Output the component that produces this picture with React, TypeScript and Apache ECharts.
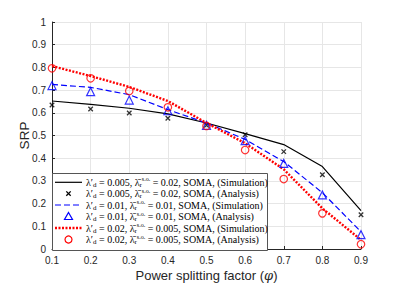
import React, { useEffect, useRef } from "react";
import * as echarts from "echarts";

const xValues = [0.1, 0.2, 0.3, 0.4, 0.5, 0.6, 0.7, 0.8, 0.9];
const sim1 = [0.652, 0.637, 0.62, 0.595, 0.555, 0.508, 0.46, 0.363, 0.169];
const ana1 = [0.634, 0.617, 0.599, 0.576, 0.545, 0.503, 0.429, 0.327, 0.151];
const sim2 = [0.725, 0.712, 0.68, 0.614, 0.555, 0.483, 0.385, 0.248, 0.076];
const ana2 = [0.72, 0.693, 0.656, 0.609, 0.545, 0.477, 0.377, 0.238, 0.063];
const sim3 = [0.806, 0.762, 0.714, 0.652, 0.555, 0.466, 0.351, 0.179, 0.04];
const ana3 = [0.796, 0.752, 0.696, 0.624, 0.542, 0.436, 0.308, 0.157, 0.021];

const lambdaD = ["0.005", "0.005", "0.01", "0.01", "0.02", "0.02"];
const lambdaR = ["0.02", "0.02", "0.01", "0.01", "0.005", "0.005"];
const kinds = ["Simulation", "Analysis", "Simulation", "Analysis", "Simulation", "Analysis"];

const pairs = (ys: number[]) => xValues.map((x, i) => [x, ys[i]]);

export default function App() {
  const ref = useRef<HTMLDivElement>(null);
  useEffect(() => {
    document.body.style.margin = "0";
    if (!ref.current) return;
    const chart = echarts.init(ref.current, undefined, { renderer: "svg" });
    const serif = "Liberation Serif";
    const axisColor = "#262626";

    // legend drawn with graphic
    const lx = 52, ly = 173, lw = 215, lh = 77;
    const rowY = [182.3, 193.6, 205, 216.5, 228, 239.5];
    const legendEls: any[] = [
      {
        type: "rect",
        shape: { x: lx + 0.5, y: ly + 0.5, width: lw, height: lh },
        style: { fill: "#ffffff", stroke: "#555555", lineWidth: 1 },
        z: 100,
      },
    ];
    const iconX1 = 55, iconX2 = 82, iconCx = 68.5;
    rowY.forEach((y, i) => {
      if (i === 0) {
        legendEls.push({ type: "line", shape: { x1: iconX1, y1: y, x2: iconX2, y2: y }, style: { stroke: "#000", lineWidth: 1.2 }, z: 101 });
      } else if (i === 1) {
        legendEls.push({ type: "line", shape: { x1: iconCx - 2.2, y1: y - 2.2, x2: iconCx + 2.2, y2: y + 2.2 }, style: { stroke: "#000", lineWidth: 1.3 }, z: 101 });
        legendEls.push({ type: "line", shape: { x1: iconCx - 2.2, y1: y + 2.2, x2: iconCx + 2.2, y2: y - 2.2 }, style: { stroke: "#000", lineWidth: 1.3 }, z: 101 });
      } else if (i === 2) {
        legendEls.push({ type: "line", shape: { x1: iconX1, y1: y, x2: iconX2, y2: y }, style: { stroke: "#0000ff", lineWidth: 1.2, lineDash: [6, 3] }, z: 101 });
      } else if (i === 3) {
        legendEls.push({
          type: "polygon",
          shape: { points: [[iconCx, y - 4], [iconCx + 4, y + 3], [iconCx - 4, y + 3]] },
          style: { fill: "none", stroke: "#0000ff", lineWidth: 1.2 },
          z: 101,
        });
      } else if (i === 4) {
        legendEls.push({ type: "line", shape: { x1: iconX1, y1: y, x2: iconX2, y2: y }, style: { stroke: "#ff0000", lineWidth: 2.4, lineDash: [2, 1.5] }, z: 101 });
      } else {
        legendEls.push({ type: "circle", shape: { cx: iconCx, cy: y, r: 3.5 }, style: { fill: "none", stroke: "#ff0000", lineWidth: 1.2 }, z: 101 });
      }
      legendEls.push({
        type: "text",
        x: 86,
        y: y,
        z: 101,
        style: {
          text: `λ′{sub|d} = ${lambdaD[i]}, λ̄{sub|r}{sup|s.o.} = ${lambdaR[i]}, SOMA, (${kinds[i]})`,
          fontFamily: serif,
          fontSize: 10,
          fill: "#000",
          verticalAlign: "middle",
          align: "left",
          rich: {
            sub: { fontFamily: serif, fontSize: 7, verticalAlign: "bottom", lineHeight: 12, padding: [4, 0, 0, 0] },
            sup: { fontFamily: serif, fontSize: 6, verticalAlign: "top", lineHeight: 12, padding: [0, 0, 4, 0] },
          },
        },
      });
    });

    chart.setOption({
      animation: false,
      grid: { left: 52, right: 38, top: 22, bottom: 34, outerBoundsMode: "none", containLabel: false },
      xAxis: {
        type: "value",
        min: 0.1,
        max: 0.9,
        interval: 0.1,
        name: "Power splitting factor ({i|φ})",
        nameLocation: "middle",
        nameMoveOverlap: false,
        nameGap: 20,
        nameTextStyle: {
          fontFamily: "Liberation Sans",
          fontSize: 13,
          color: axisColor,
          rich: { i: { fontFamily: "DejaVu Serif", fontStyle: "italic", fontSize: 13, color: axisColor } },
        },
        axisLine: { lineStyle: { color: axisColor, width: 1 } },
        axisTick: { inside: true, length: 3, lineStyle: { color: axisColor } },
        axisLabel: {
          fontFamily: "Liberation Sans",
          fontSize: 10,
          color: axisColor,
          margin: 6,
          formatter: (v: number) => v.toFixed(1),
        },
        splitLine: { show: true, lineStyle: { color: "#e6e6e6", width: 1 } },
      },
      yAxis: {
        type: "value",
        min: 0,
        max: 1,
        interval: 0.1,
        name: "SRP",
        nameLocation: "middle",
        nameMoveOverlap: false,
        nameGap: 21,
        nameTextStyle: { fontFamily: "Liberation Sans", fontSize: 13.5, color: axisColor },
        axisLine: { show: true, lineStyle: { color: axisColor, width: 1 } },
        axisTick: { show: true, inside: true, length: 3, lineStyle: { color: axisColor } },
        axisLabel: {
          fontFamily: "Liberation Sans",
          fontSize: 10,
          color: axisColor,
          margin: 6,
          formatter: (v: number) => (v === 0 ? "0" : v === 1 ? "1" : v.toFixed(1)),
        },
        splitLine: { show: true, lineStyle: { color: "#e6e6e6", width: 1 } },
      },
      graphic: legendEls,
      series: [
        {
          name: "s1",
          type: "line",
          data: pairs(sim1),
          symbol: "none",
          lineStyle: { color: "#000000", width: 1.2, type: "solid" },
          z: 3,
        },
        {
          name: "a1",
          type: "scatter",
          data: pairs(ana1),
          symbol: "path://M0,0L10,10M10,0L0,10",
          symbolSize: 4.5,
          itemStyle: { color: "transparent", borderColor: "#000000", borderWidth: 1.3 },
          z: 4,
        },
        {
          name: "s2",
          type: "line",
          data: pairs(sim2),
          symbol: "none",
          lineStyle: { color: "#0000ff", width: 1.2, type: [6, 3] },
          z: 3,
        },
        {
          name: "a2",
          type: "scatter",
          data: pairs(ana2),
          symbol: "triangle",
          symbolSize: 8,
          itemStyle: { color: "transparent", borderColor: "#0000ff", borderWidth: 1.2 },
          z: 4,
        },
        {
          name: "s3",
          type: "line",
          data: pairs(sim3),
          symbol: "none",
          lineStyle: { color: "#ff0000", width: 2.4, type: [2, 1.5] },
          z: 3,
        },
        {
          name: "a3",
          type: "scatter",
          data: pairs(ana3),
          symbol: "circle",
          symbolSize: 7.5,
          itemStyle: { color: "transparent", borderColor: "#ff0000", borderWidth: 1.2 },
          z: 4,
        },
      ],
    });
    return () => chart.dispose();
  }, []);
  return <div ref={ref} style={{ width: 399, height: 283 }} />;
}
